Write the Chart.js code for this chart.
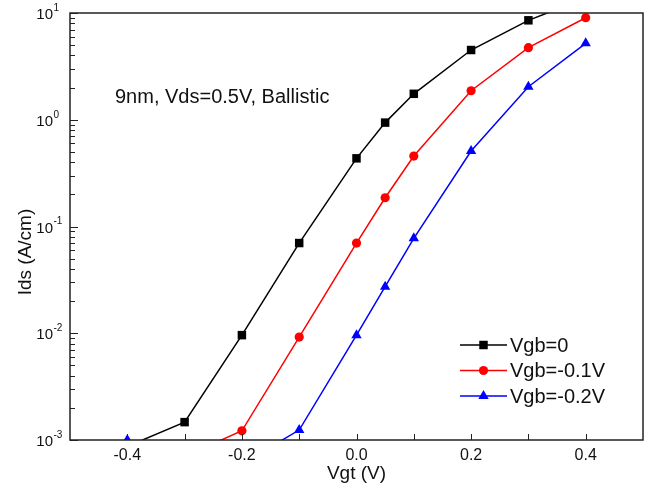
<!DOCTYPE html>
<html>
<head>
<meta charset="utf-8">
<script src="https://cdn.jsdelivr.net/npm/chart.js@4.4.1/dist/chart.umd.min.js"></script>
<style>
    html, body { margin: 0; padding: 0; background: #fff; }
    canvas { display: block; }
</style>
</head>
<body>
<canvas id="ivChart" width="662" height="487"></canvas>
<script>
// Vgb = 0 (points beyond the frame are where the line leaves the plot)
const vgtBlack = [-0.4, -0.3, -0.2, -0.1, 0.0, 0.05, 0.1, 0.2, 0.3, 0.4];
const idsBlack = [8.7e-4, 1.47e-3, 0.0096, 0.07, 0.435, 0.94, 1.75, 4.5, 8.54, 13.8];

// Vgb = -0.1V
const vgtRed = [-0.3, -0.2, -0.1, 0.0, 0.05, 0.1, 0.2, 0.3, 0.4];
const idsRed = [7e-4, 1.22e-3, 0.0092, 0.07, 0.186, 0.457, 1.87, 4.73, 9.03];

// Vgb = -0.2V
const vgtBlue = [-0.4, -0.3, -0.2, -0.1, 0.0, 0.05, 0.1, 0.2, 0.3, 0.4];
const idsBlue = [1e-3, null, 6e-4, 1.24e-3, 0.0096, 0.0273, 0.0775, 0.51, 2.04, 5.2];

const seriesLabels = ['Vgb=0', 'Vgb=-0.1V', 'Vgb=-0.2V'];
const seriesColors = ['#000000', '#ff0000', '#0000ff'];
const seriesMarkers = ['rect', 'circle', 'triangle'];
const markerRadius = [6, 4.6, 6];

const xTicks = [-0.4, -0.3, -0.2, -0.1, 0.0, 0.1, 0.2, 0.3, 0.4];
const xTickLabels = [-0.4, -0.2, 0.0, 0.2, 0.4];
const yDecades = [-3, -2, -1, 0, 1];

const annotation = '9nm, Vds=0.5V, Ballistic';
const xTitle = 'Vgt (V)';
const yTitle = 'Ids (A/cm)';

const FONT = '"Liberation Sans", Arial, sans-serif';

function toPoints(xs, ys) {
    return xs.map((v, i) => ({ x: v, y: ys[i] }));
}

function makeDataset(i, xs, ys) {
    return {
        label: seriesLabels[i],
        data: toPoints(xs, ys),
        borderColor: seriesColors[i],
        backgroundColor: seriesColors[i],
        borderWidth: 1.5,
        pointStyle: seriesMarkers[i],
        pointRadius: markerRadius[i],
        pointBorderWidth: 0,
        spanGaps: false,
        tension: 0
    };
}

// frame, inward ticks, labels, note and legend, all placed from the scales
const decorations = {
    id: 'decorations',
    afterDatasetsDraw(chart) {
        const { ctx, chartArea: a, scales: { x, y } } = chart;
        ctx.save();

        ctx.strokeStyle = '#222';
        ctx.lineWidth = 1;
        yDecades.forEach(e => {
            for (let m = 1; m <= 9; m++) {
                const v = m * Math.pow(10, e);
                if (v > y.max * 1.0001) break;
                const py = Math.round(y.getPixelForValue(v)) + 0.5;
                ctx.beginPath();
                ctx.moveTo(a.left, py);
                ctx.lineTo(a.left + (m === 1 ? 8 : 5), py);
                ctx.stroke();
            }
        });
        xTicks.forEach(v => {
            const px = Math.round(x.getPixelForValue(v)) + 0.5;
            ctx.beginPath();
            ctx.moveTo(px, a.bottom);
            ctx.lineTo(px, a.bottom - 6);
            ctx.stroke();
        });

        ctx.lineWidth = 1.5;
        ctx.strokeRect(a.left, a.top, a.right - a.left, a.bottom - a.top);

        ctx.fillStyle = '#111';
        // y tick labels as 10 with a raised exponent
        yDecades.forEach(e => {
            const py = y.getPixelForValue(Math.pow(10, e));
            ctx.font = '15px ' + FONT;
            ctx.textAlign = 'right';
            ctx.textBaseline = 'middle';
            ctx.fillText('10', a.left - 17, py + 2);
            ctx.font = '10px ' + FONT;
            ctx.textAlign = 'left';
            ctx.fillText(String(e), a.left - 16.5, py - 5);
        });

        ctx.font = '16px ' + FONT;
        ctx.textAlign = 'center';
        ctx.textBaseline = 'middle';
        xTickLabels.forEach(v => {
            ctx.fillText(v.toFixed(1), x.getPixelForValue(v), a.bottom + 16);
        });

        ctx.font = '19px ' + FONT;
        ctx.fillText(xTitle, x.getPixelForValue(0), a.bottom + 34);

        ctx.save();
        ctx.translate(26, 252);
        ctx.rotate(-Math.PI / 2);
        ctx.fillText(yTitle, 0, 0);
        ctx.restore();

        ctx.font = '20px ' + FONT;
        ctx.textAlign = 'left';
        ctx.fillText(annotation, a.left + 45, 97);

        // legend
        chart.data.datasets.forEach((ds, i) => {
            const ly = 345 + i * 25.5;
            ctx.strokeStyle = ds.borderColor;
            ctx.lineWidth = 1.5;
            ctx.beginPath();
            ctx.moveTo(460, ly);
            ctx.lineTo(507, ly);
            ctx.stroke();
            ctx.fillStyle = ds.backgroundColor;
            Chart.helpers.drawPoint(ctx, {
                pointStyle: ds.pointStyle,
                radius: ds.pointRadius,
                borderWidth: 0,
                rotation: 0
            }, 483.5, ly);
            ctx.fillStyle = '#111';
            ctx.font = '20px ' + FONT;
            ctx.fillText(ds.label, 510, ly + 1);
        });

        ctx.restore();
    }
};

new Chart(document.getElementById('ivChart'), {
    type: 'line',
    data: {
        datasets: [
            makeDataset(0, vgtBlack, idsBlack),
            makeDataset(1, vgtRed, idsRed),
            makeDataset(2, vgtBlue, idsBlue)
        ]
    },
    options: {
        responsive: false,
        animation: false,
        layout: { padding: { top: 13, right: 19, left: 0, bottom: 0 } },
        plugins: {
            legend: { display: false },
            tooltip: { enabled: false }
        },
        scales: {
            x: {
                type: 'linear',
                min: -0.5,
                max: 0.5,
                grid: { display: false },
                border: { display: false },
                ticks: { display: false },
                afterFit: (s) => { s.height = 47; }
            },
            y: {
                type: 'logarithmic',
                min: 1e-3,
                max: 10,
                grid: { display: false },
                border: { display: false },
                ticks: { display: false },
                afterFit: (s) => { s.width = 70; }
            }
        }
    },
    plugins: [decorations]
});
</script>
</body>
</html>
